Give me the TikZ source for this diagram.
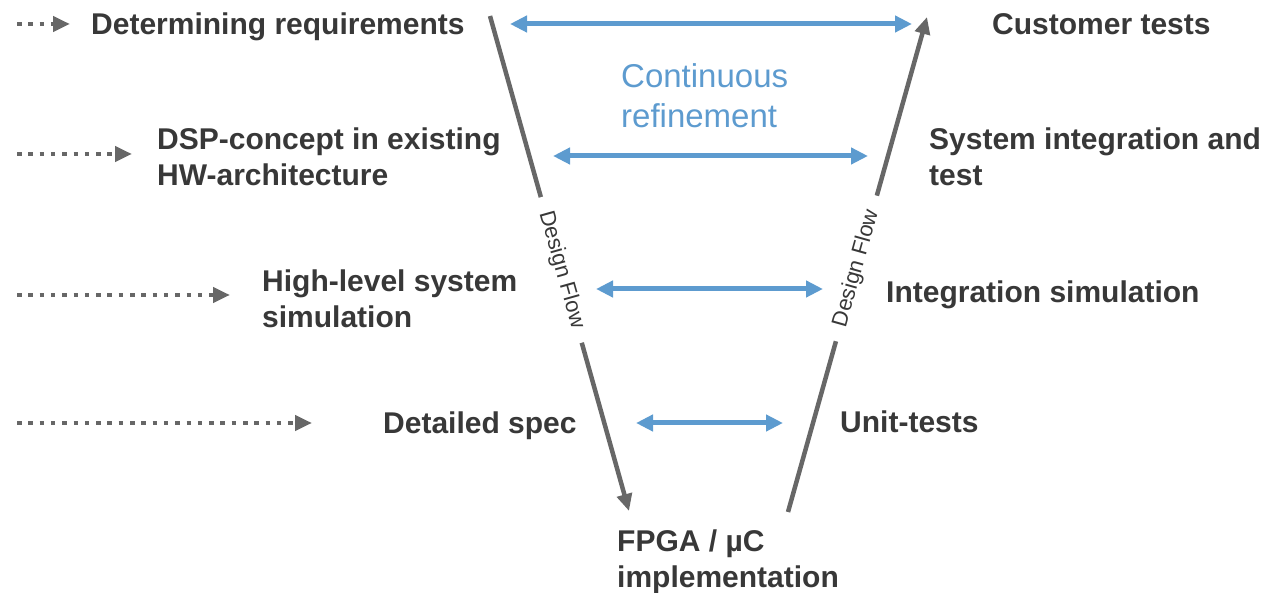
\documentclass[tikz,border=0pt]{standalone}
\usepackage{fontspec}
\setmainfont{Liberation Sans}
\usetikzlibrary{arrows.meta}
\definecolor{txt}{HTML}{383838}
\definecolor{blu}{HTML}{5D9BCF}
\definecolor{gry}{HTML}{676767}
\begin{document}
\begin{tikzpicture}[x=1pt,y=-1pt,
 lbl/.style={anchor=base west, inner sep=0pt, text=txt, font=\fontsize{30}{36}\selectfont\bfseries, align=left},
 blabel/.style={anchor=base west, inner sep=0pt, text=blu, font=\fontsize{33}{40}\selectfont, align=left},
 refine/.style={blu, line width=5pt, {Triangle[length=17pt,width=16pt]}-{Triangle[length=17pt,width=16pt]}},
 feed/.style={gry, line width=4.3pt, dash pattern=on 4.5pt off 6.8pt, -{Triangle[length=17pt,width=15pt]}},
 flow/.style={gry, line width=4.5pt, -{Triangle[length=17pt,width=15pt]}},
 flowlbl/.style={sloped, fill=white, inner xsep=15pt, inner ysep=2pt, text=txt, font=\fontsize{22}{24}\selectfont}]
\useasboundingbox (0,0) rectangle (1267,593);

% labels
\node[lbl] (req) at (91,35) {Determining requirements};
\node[lbl] (dsp) at (157,186) {DSP-concept in existing\\HW-architecture};
\node[lbl] (hls) at (262,328) {High-level system\\simulation};
\node[lbl] (spec) at (383,434) {Detailed spec};
\node[lbl] (impl) at (617,587) {FPGA / µC\\implementation};
\node[lbl] (cust) at (992,35) {Customer tests};
\node[lbl] (sit) at (929,186) {System integration and\\test};
\node[lbl] (isim) at (886,303) {Integration simulation};
\node[lbl] (unit) at (840,433) {Unit-tests};
\node[blabel] (cr) at (621,128) {Continuous\\refinement};

% coordinates
\coordinate (f1s) at (17,24);  \coordinate (f1e) at (70,24);
\coordinate (f2s) at (17,154); \coordinate (f2e) at (132,154);
\coordinate (f3s) at (17,295); \coordinate (f3e) at (230,295);
\coordinate (f4s) at (17,423); \coordinate (f4e) at (312,423);
\coordinate (r1a) at (510,24);  \coordinate (r1b) at (912,24);
\coordinate (r2a) at (553,156); \coordinate (r2b) at (868,156);
\coordinate (r3a) at (596,289); \coordinate (r3b) at (823,289);
\coordinate (r4a) at (636,423); \coordinate (r4b) at (783,423);
\coordinate (dtop) at (490,16); \coordinate (dbot) at (629,511);
\coordinate (ubot) at (788,512); \coordinate (utop) at (927,17);

% dotted feed arrows
\draw[feed] (f1s) -- (f1e);
\draw[feed] (f2s) -- (f2e);
\draw[feed] (f3s) -- (f3e);
\draw[feed] (f4s) -- (f4e);

% design flow
\draw[flow] (dtop) -- node[flowlbl,pos=0.513] (dfl) {Design Flow} (dbot);
\draw[flow] (ubot) -- node[flowlbl,pos=0.492] (ufl) {Design Flow} (utop);

% refinement arrows
\draw[refine] (r1a) -- (r1b);
\draw[refine] (r2a) -- (r2b);
\draw[refine] (r3a) -- (r3b);
\draw[refine] (r4a) -- (r4b);
\end{tikzpicture}
\end{document}
